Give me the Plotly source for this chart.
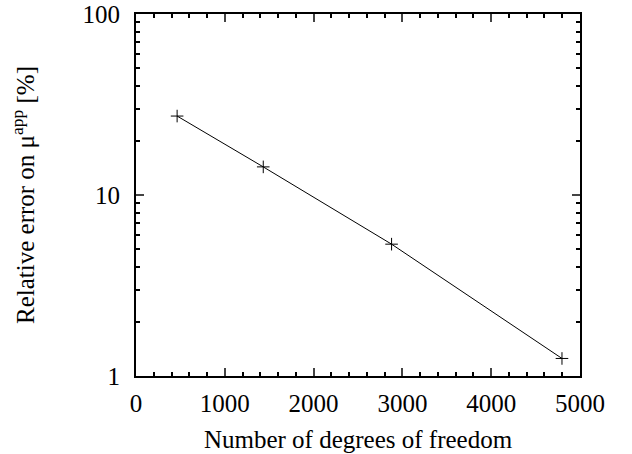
import plotly.graph_objects as go

dof = [463, 1433, 2878, 4797]
rel_error = [27.3, 14.3, 5.35, 1.25]

x_ticks = [0, 1000, 2000, 3000, 4000, 5000]
y_ticks = [1, 10, 100]

fig = go.Figure()
fig.add_trace(go.Scatter(
    x=dof, y=rel_error, mode='lines+markers',
    line=dict(color='black', width=1),
    marker=dict(symbol='cross-thin', size=9, color='black',
                line=dict(color='black', width=1)),
    showlegend=False,
))

font = dict(family='Liberation Serif, Times New Roman, serif', size=25, color='black')

fig.update_xaxes(
    range=[0, 5000], tickvals=x_ticks, ticks='inside', ticklen=8, tickwidth=2,
    showline=True, linewidth=2, linecolor='black', mirror='allticks',
    showgrid=False, zeroline=False, tickfont=font, ticklabelstandoff=4,
    automargin=False, ticklabeloverflow='allow',
    minor=dict(ticks='inside', dtick=200, ticklen=4, tickwidth=2, tickcolor='black', showgrid=False),
    title=dict(text='Number of degrees of freedom', font=font, standoff=14),
)
fig.update_yaxes(
    type='log', range=[0, 2], tickvals=y_ticks, ticktext=['1', '10', '100'],
    ticks='inside', ticklen=8, tickwidth=2,
    showline=True, linewidth=2, linecolor='black', mirror='allticks',
    showgrid=False, zeroline=False, tickfont=font, ticklabelstandoff=9,
    automargin=False, ticklabeloverflow='allow',
    minor=dict(ticks='inside', dtick='D1', ticklen=4, tickwidth=2,
               tickcolor='black', showgrid=False),
    title=dict(text='Relative error on \u03bc<sup>app</sup> [%]', font=font, standoff=41),
)
fig.update_layout(
    width=632, height=454,
    font=font,
    margin=dict(l=136, r=52, t=14, b=78),
    plot_bgcolor='white', paper_bgcolor='white',
)
# drop the browser's default 8px body margin so the figure sits at the page corner
fig.write_html("out.html", config={'displayModeBar': False},
               post_script="document.body.style.margin='0';")
